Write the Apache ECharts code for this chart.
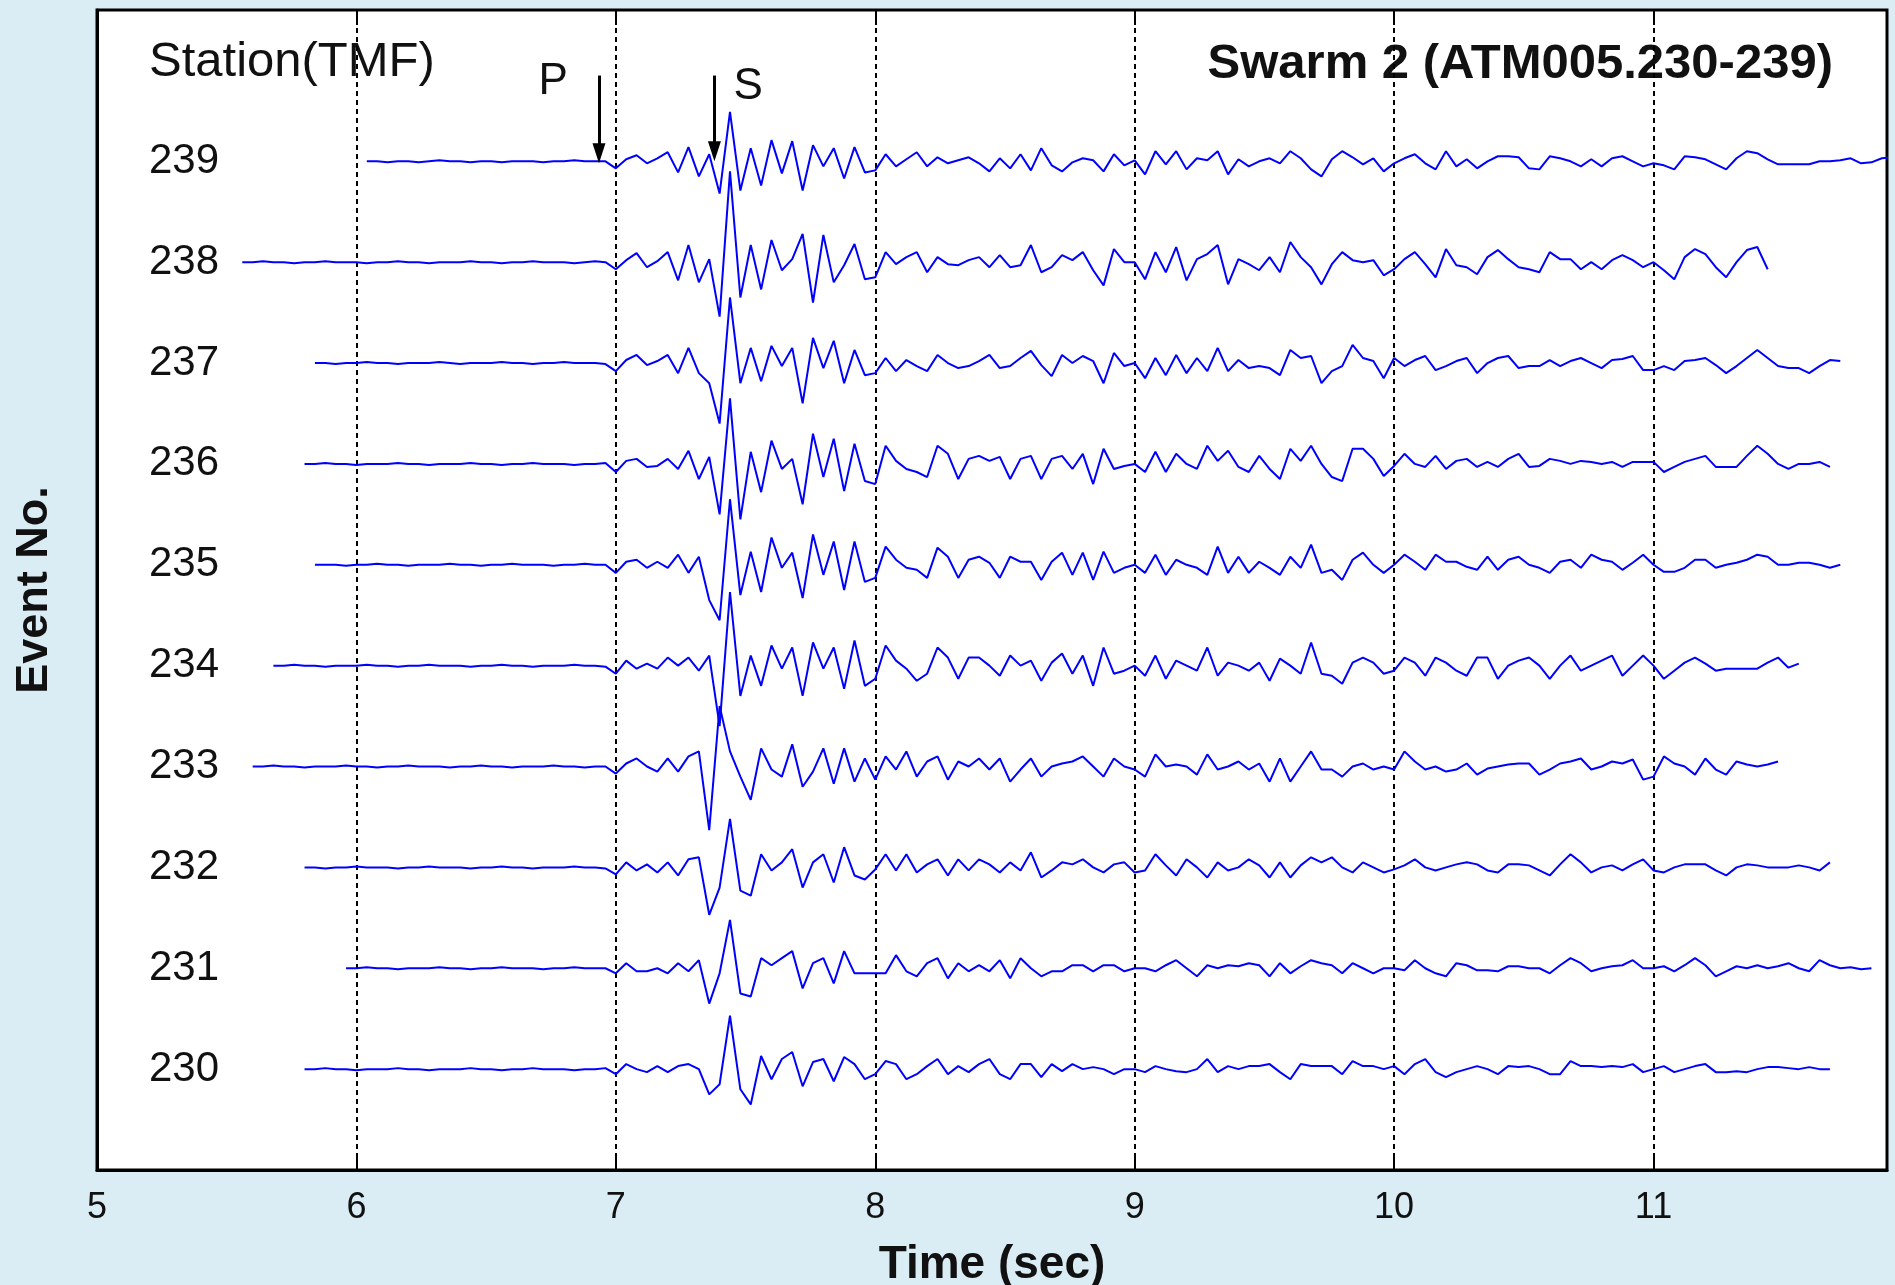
<!DOCTYPE html>
<html>
<head>
<meta charset="utf-8">
<script src="https://cdn.jsdelivr.net/npm/echarts@6/dist/echarts.min.js"></script>
<style>
html, body { margin: 0; padding: 0; background: #daedf4; }
#chart { width: 1895px; height: 1285px; }
</style>
</head>
<body>
<div id="chart"></div>
<script>
var chart = echarts.init(document.getElementById('chart'));

// event numbers (top to bottom) and the time of each trace's first sample
var events = [239, 238, 237, 236, 235, 234, 233, 232, 231, 230];
var startTimes = [6.04, 5.56, 5.84, 5.80, 5.84, 5.68, 5.60, 5.80, 5.96, 5.80];
var sampleStep = 0.04; // seconds between samples
var timeTicks = [5, 6, 7, 8, 9, 10, 11];

// amplitudes in % of the trace spacing
// (pre-event noise, then 7s, 8s, 9s, 10s, 11s blocks)
var amp239 = [0,0,-1,0,0,-1,0,1,0,0,-1,0,0,-1,0,0,0,-1,0,0,1,0,0,0,
  -7,2,6,-2,3,9,-11,14,-15,7,-32,49,-29,13,-24,21,-12,20,-29,16,-5,13,-17,14,-11,
  -9,7,-5,2,9,-5,4,-2,1,4,-2,-10,3,-7,7,-9,13,-4,-10,-1,3,1,-10,7,-4,
  1,-13,10,-3,10,-8,3,1,10,-13,2,-5,0,3,-2,10,3,-8,-15,2,10,4,-3,3,-10,
  -2,3,7,-2,-8,10,-5,2,-7,0,5,5,4,-7,-8,5,3,0,-5,2,-5,3,5,0,-5,
  -2,-4,-8,5,4,2,-3,-8,3,10,8,2,-3,-3,-3,-3,0,0,1,3,-2,-1,3,4];
var amp238 = [0,0,1,0,0,-1,0,0,1,0,0,0,-1,0,0,1,0,0,-1,0,0,0,1,0,0,-1,0,0,1,0,0,0,-1,0,1,0,
  -7,2,9,-5,1,10,-18,17,-20,3,-54,90,-35,17,-27,22,-8,3,28,-40,27,-20,-3,18,-17,
  -15,10,-2,5,10,-10,5,-2,-3,2,5,-5,7,-5,-3,17,-10,-5,7,2,10,-8,-23,13,0,
  0,-17,10,-10,15,-18,3,8,17,-22,3,-2,-8,5,-10,20,5,-5,-22,-2,10,2,0,2,-13,
  -7,3,10,-2,-15,13,-3,-5,-12,5,12,3,-5,-7,-10,10,3,3,-7,0,-7,2,7,2,-5,
  0,-8,-17,5,13,8,-5,-15,0,12,15,-7];
var amp237 = [0,0,-1,0,0,1,0,0,-1,0,0,0,1,0,-1,0,0,0,1,0,0,-1,0,0,1,0,0,0,-1,
  -8,3,8,-2,2,8,-10,15,-10,-20,-60,65,-20,15,-18,17,-3,15,-40,25,-5,22,-20,13,-12,
  -10,5,-8,3,-3,-8,8,0,-5,-3,2,8,-5,-3,5,12,-2,-13,8,0,7,2,-20,10,-3,
  0,-15,5,-12,8,-10,5,-8,15,-8,3,-5,-3,-5,-12,13,5,7,-20,-8,-3,18,5,2,-15,
  5,-3,3,7,-7,-3,2,5,-10,0,5,7,-5,-3,-3,3,-3,2,5,0,-5,3,4,7,-7,
  -7,-3,-7,2,3,5,-2,-10,-3,5,13,5,-3,-5,-5,-10,-3,3,2];
var amp236 = [0,0,1,0,0,-1,0,0,0,1,0,0,-1,0,0,0,1,0,0,-1,0,0,1,0,0,0,-1,0,0,1,
  -8,3,5,-3,-2,5,-5,13,-15,7,-50,65,-55,12,-28,23,-5,5,-40,30,-13,25,-27,20,-17,
  -20,18,3,-5,-8,-13,18,10,-15,5,8,3,7,-15,5,8,-15,5,8,-5,10,-20,15,-5,-2,
  0,-8,12,-8,10,0,-5,18,3,13,-3,-8,8,-5,-15,15,3,18,0,-13,-17,15,15,5,-12,
  -2,10,0,-3,8,-5,3,5,-3,2,-3,5,10,-3,-2,5,3,0,3,2,0,2,-3,2,2,
  2,-8,-3,2,5,8,-3,-3,-3,8,18,10,0,-5,0,0,2,-3];
var amp235 = [0,0,0,-1,0,0,1,0,0,-1,0,0,0,1,0,0,-1,0,0,1,0,0,0,-1,0,0,1,0,0,
  -8,3,5,-3,3,-3,10,-8,8,-35,-55,65,-30,13,-27,27,-3,12,-33,30,-10,23,-25,23,-17,
  -13,18,5,-3,-5,-13,17,8,-13,5,8,2,-13,8,3,3,-15,3,12,-10,12,-15,13,-8,-3,
  0,-8,10,-10,5,0,-3,-10,18,-8,8,-8,3,-3,-10,8,-3,20,-8,-5,-15,5,12,0,-8,
  0,10,3,-5,10,3,3,-2,-5,8,-5,5,8,0,-3,-8,3,5,-3,10,5,3,-5,2,10,
  0,-7,-7,-3,5,5,-3,0,2,5,10,8,0,0,2,2,0,-3,0];
var amp234 = [0,0,1,0,0,-1,0,0,0,1,0,0,-1,0,0,1,0,0,0,-1,0,0,1,0,0,-1,0,0,0,1,0,0,-1,
  -8,5,-3,2,-3,8,0,8,-5,10,-60,73,-30,10,-20,20,-3,18,-30,23,-3,18,-23,25,-20,
  -13,20,5,-3,-15,-8,18,8,-13,8,8,0,-10,10,0,5,-15,3,12,-8,10,-20,18,-8,-5,
  0,-10,10,-13,5,0,-5,18,-10,3,0,-5,3,-15,7,0,-8,23,-8,-10,-18,3,8,3,-8,
  -5,8,3,-10,8,3,-5,-10,8,8,-13,0,5,8,0,-13,0,10,-5,0,5,10,-10,0,10,
  0,-13,-5,3,8,2,-5,-3,-3,-3,-3,3,8,-2,2];
var amp233 = [0,0,1,0,0,-1,0,0,0,1,0,0,-1,0,0,1,0,0,0,-1,0,0,1,0,0,-1,0,0,0,1,0,0,-1,0,0,
  -7,3,8,0,-5,8,-5,10,15,-63,60,15,-10,-33,18,-3,-10,22,-20,-5,18,-17,18,-15,8,
  -13,10,-3,15,-10,5,10,-13,5,0,8,-3,8,-15,-3,8,-10,0,3,5,10,0,-10,8,0,
  -3,-10,12,0,2,0,-8,12,-3,0,5,-3,3,-15,8,-15,0,15,-3,-3,-10,0,3,-3,0,
  -3,15,5,-3,0,-5,-3,3,-8,-2,0,2,3,3,-8,-3,3,5,8,-3,0,5,3,7,-13,
  -10,10,3,0,-8,8,-3,-8,5,2,0,2,5];
var amp232 = [0,0,-1,0,0,1,0,0,0,-1,0,0,1,0,0,0,-1,0,0,1,0,0,-1,0,0,0,1,0,0,-1,
  -7,5,-3,3,-5,5,-8,8,10,-47,-20,48,-23,-28,13,-3,5,18,-20,5,13,-15,20,-8,-12,
  -2,13,-3,13,-5,3,8,-8,8,-3,8,3,-5,5,-3,15,-10,-3,5,3,8,0,-5,3,5,
  -5,-3,13,2,-8,8,0,-10,5,-3,0,8,2,-10,5,-10,2,10,5,10,0,-5,5,0,-5,
  -2,2,8,0,-3,0,3,5,3,-3,-5,3,3,2,-3,-8,3,13,5,-5,0,2,-3,3,8,
  -3,-5,0,3,3,3,-3,-8,0,3,2,0,0,0,2,0,-3,5];
var amp231 = [0,0,1,0,0,-1,0,0,0,1,0,0,-1,0,0,1,0,0,0,-1,0,0,1,0,0,0,
  -5,5,-3,-3,0,-5,5,-3,8,-35,-5,48,-25,-28,10,3,10,17,-20,5,10,-15,17,-5,-5,
  -5,-5,13,-3,-8,5,10,-10,5,-3,3,-3,8,-10,10,0,-8,-3,-3,3,3,-3,3,3,-3,
  0,0,-3,3,8,0,-8,3,0,3,2,5,3,-8,5,-5,2,8,5,3,-5,5,0,-5,0,
  0,-2,8,0,-5,-8,5,3,-2,-2,-3,2,2,0,0,-5,3,10,5,-3,0,2,3,8,0,
  0,2,-3,3,10,3,-8,-3,2,0,3,0,2,5,0,-3,8,3,0,1,-1,0];
var amp230 = [0,0,1,0,0,-1,0,0,0,1,0,0,-1,0,0,0,1,0,0,-1,0,0,1,0,0,0,-1,0,0,1,
  -5,5,0,-3,3,-3,3,5,0,-25,-15,53,-20,-35,13,-10,10,17,-17,7,10,-12,12,5,-10,
  -5,8,5,-10,-5,3,10,-5,3,-3,5,10,-5,-10,5,5,-8,5,-2,5,0,2,0,-5,0,
  0,-3,3,0,-2,-3,0,10,-3,3,0,3,3,5,-3,-10,5,3,3,3,-5,8,3,3,0,
  3,-5,5,10,-3,-8,-3,0,3,0,-5,3,2,3,0,-5,-5,8,3,3,2,3,2,5,-3,
  0,3,-3,0,3,5,-3,-3,-2,-3,0,2,2,1,0,2,0,0];

var traces = [amp239, amp238, amp237, amp236, amp235, amp234, amp233, amp232, amp231, amp230];

// P and S picks on event 239: [time, arrow top, arrow tip]
var pickP = [6.935, 239.85, 239.08];
var pickS = [7.38, 239.85, 239.1];

var black = '#111';
var font = '"Liberation Sans", Arial, sans-serif';

var series = traces.map(function (amps, k) {
    return {
        name: String(events[k]),
        type: 'line',
        showSymbol: false,
        animation: false,
        silent: true,
        lineStyle: { color: '#0000ff', width: 2 },
        data: amps.map(function (a, i) {
            return [startTimes[k] + i * sampleStep, events[k] + a / 100];
        })
    };
});

// arrows + P/S letters ride on the first trace
series[0].markLine = {
    silent: true,
    animation: false,
    symbol: ['none', 'triangle'],
    symbolSize: [13, 20],
    label: { show: false },
    lineStyle: { color: '#000', width: 3, type: 'solid' },
    data: [
        [{ coord: [pickP[0], pickP[1]] }, { coord: [pickP[0], pickP[2]] }],
        [{ coord: [pickS[0], pickS[1]] }, { coord: [pickS[0], pickS[2]] }]
    ]
};
series[0].markPoint = {
    silent: true,
    animation: false,
    symbol: 'circle',
    symbolSize: 0,
    label: {
        show: true,
        position: 'inside',
        formatter: function (p) { return p.name; },
        color: black,
        fontSize: 44,
        fontFamily: font
    },
    data: [
        { name: 'P', coord: [6.758, 239.79] },
        { name: 'S', coord: [7.51, 239.74] }
    ]
};

var option = {
    backgroundColor: '#daedf4',
    grid: {
        show: true,
        left: 97,
        right: 8,
        top: 10,
        bottom: 115,
        outerBoundsMode: 'none',
        backgroundColor: '#fff',
        borderColor: '#000',
        borderWidth: 3
    },
    graphic: [{
        type: 'text',
        left: 149,
        top: 38,
        style: { text: 'Station(TMF)', font: '49px ' + font, fill: black }
    }, {
        type: 'text',
        right: 62,
        top: 40,
        style: { text: 'Swarm 2 (ATM005.230-239)', font: 'bold 49px ' + font, fill: black }
    }],
    xAxis: [{
        type: 'value',
        min: 5,
        max: 11.9,
        interval: 1,
        name: 'Time (sec)',
        nameLocation: 'middle',
        nameGap: 72,
        nameTextStyle: { fontSize: 46, fontWeight: 'bold', color: black, fontFamily: font },
        axisLine: { show: true, lineStyle: { color: '#000', width: 3 } },
        axisTick: { show: true, inside: true, length: 15, lineStyle: { color: '#000', width: 2 } },
        axisLabel: {
            margin: 20,
            fontSize: 36,
            color: black,
            fontFamily: '"Liberation Sans Narrow", ' + font,
            formatter: function (v) { return timeTicks.indexOf(v) >= 0 ? String(v) : ''; }
        },
        splitLine: { show: true, lineStyle: { color: '#000', width: 2, type: [5, 4] } }
    }, {
        type: 'value',
        position: 'top',
        min: 5,
        max: 11.9,
        interval: 1,
        axisLine: { show: false },
        axisTick: { show: true, inside: true, length: 15, lineStyle: { color: '#000', width: 2 } },
        axisLabel: { show: false },
        splitLine: { show: false }
    }],
    yAxis: {
        type: 'value',
        min: 229,
        max: 240.5,
        interval: 1,
        name: 'Event No.',
        nameLocation: 'middle',
        nameRotate: 90,
        nameGap: 40,
        nameTextStyle: { fontSize: 45, fontWeight: 'bold', color: black, fontFamily: font },
        axisLine: { show: true, lineStyle: { color: '#000', width: 3 } },
        axisTick: { show: false },
        splitLine: { show: false },
        axisLabel: {
            inside: true,
            margin: 52,
            fontSize: 42,
            color: black,
            fontFamily: font,
            formatter: function (v) { return events.indexOf(v) >= 0 ? String(v) : ''; }
        }
    },
    series: series
};

chart.setOption(option);
</script>
</body>
</html>
